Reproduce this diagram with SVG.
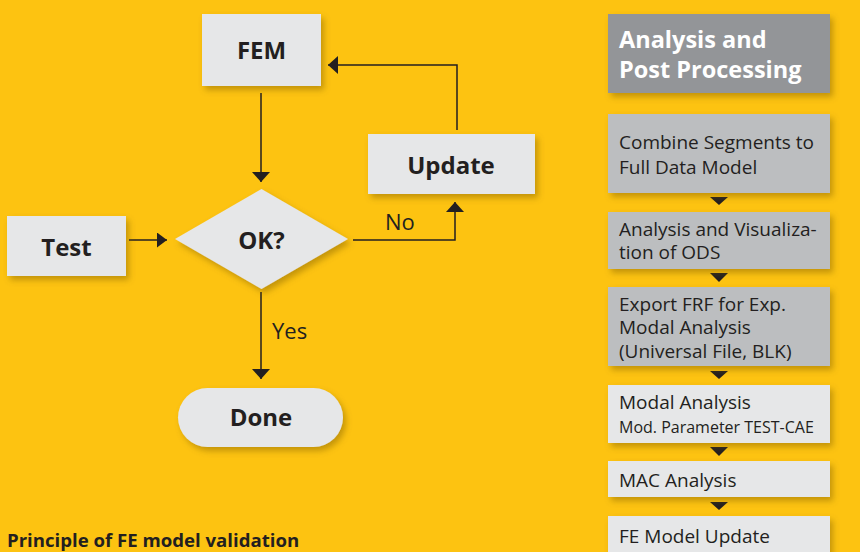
<svg xmlns="http://www.w3.org/2000/svg" width="860" height="552" viewBox="0 0 860 552">
<defs>
<filter id="sh" x="-20%" y="-20%" width="150%" height="160%">
<feDropShadow dx="3" dy="4" stdDeviation="3" flood-color="#7a5a00" flood-opacity="0.45"/>
</filter>
<marker id="ah" viewBox="0 0 10 18" refX="10" refY="9" markerWidth="10" markerHeight="18" orient="auto" markerUnits="userSpaceOnUse">
<path d="M0,0 L10,9 L0,18 z" fill="#231F20"/>
</marker>
<marker id="ahs" viewBox="0 0 10 15" refX="10" refY="7.5" markerWidth="10" markerHeight="15" orient="auto" markerUnits="userSpaceOnUse">
<path d="M0,0 L10,7.5 L0,15 z" fill="#231F20"/>
</marker>
</defs>
<style>
.bg{fill:#FDC311}
.lt{fill:#E6E7E8;filter:url(#sh)}
.md{fill:#BCBEC0;filter:url(#sh)}
.hd{fill:#939598;filter:url(#sh)}
.bl{font-family:"Open Sans","Liberation Sans",sans-serif;font-weight:bold;font-size:24px;fill:#231F20;text-anchor:middle}
.lb{font-family:"Open Sans","Liberation Sans",sans-serif;font-size:22px;fill:#231F20}
.rt{font-family:"Open Sans","Liberation Sans",sans-serif;font-size:19px;fill:#231F20}
.sm{font-family:"Open Sans","Liberation Sans",sans-serif;font-size:16px;fill:#231F20}
.ht{font-family:"Open Sans","Liberation Sans",sans-serif;font-weight:bold;font-size:23.5px;fill:#FFFFFF}
.cap{font-family:"Open Sans","Liberation Sans",sans-serif;font-weight:bold;font-size:18.6px;fill:#231F20}
.ln{fill:none;stroke:#231F20;stroke-width:1.5}
.tri{fill:#231F20}
</style>
<rect class="bg" x="0" y="0" width="860" height="552"/>
<g id="connectors">
<path class="ln" d="M261,93 V182" marker-end="url(#ah)"/>
<path class="ln" d="M129,240 H167" marker-end="url(#ahs)"/>
<path class="ln" d="M353,240 H455 V202" marker-end="url(#ah)"/>
<path class="ln" d="M457,130 V65 H328" marker-end="url(#ah)"/>
<path class="ln" d="M261,292 V379" marker-end="url(#ah)"/>
<polygon class="tri" points="710,197 728,197 719,205"/>
<polygon class="tri" points="710,273 728,273 719,282"/>
<polygon class="tri" points="710,371 728,371 719,379"/>
<polygon class="tri" points="710,447 728,447 719,456"/>
<polygon class="tri" points="710,502 728,502 719,510"/>
</g>
<g id="label-no"><text class="lb" x="385" y="230">No</text></g>
<g id="label-yes"><text class="lb" x="272" y="339">Yes</text></g>
<g id="fem"><rect class="lt" x="202" y="14" width="119" height="72"/><text class="bl" x="261.5" y="59">FEM</text></g>
<g id="test"><rect class="lt" x="7" y="216" width="119" height="60"/><text class="bl" x="66.5" y="256">Test</text></g>
<g id="ok"><polygon class="lt" points="175,239 261.5,189 348,239 261.5,289"/><text class="bl" x="261.5" y="249">OK?</text></g>
<g id="update"><rect class="lt" x="368" y="134" width="167" height="60"/><text class="bl" x="451" y="174">Update</text></g>
<g id="done"><rect class="lt" x="178" y="388" width="165" height="59" rx="29.5"/><text class="bl" x="261" y="426">Done</text></g>
<g id="caption"><text class="cap" x="7" y="547">Principle of FE model validation</text></g>
<g id="r-header"><rect class="hd" x="608" y="14" width="222" height="79"/><text class="ht" x="619" y="48">Analysis and</text><text class="ht" x="619" y="78">Post Processing</text></g>
<g id="r-combine"><rect class="md" x="608" y="114" width="222" height="79"/><text class="rt" x="619" y="149">Combine Segments to</text><text class="rt" x="619" y="174">Full Data Model</text></g>
<g id="r-ods"><rect class="md" x="608" y="212" width="222" height="57"/><text class="rt" x="619" y="236">Analysis and Visualiza-</text><text class="rt" x="619" y="259">tion of ODS</text></g>
<g id="r-export"><rect class="md" x="608" y="287" width="222" height="79"/><text class="rt" x="619" y="311">Export FRF for Exp.</text><text class="rt" x="619" y="334">Modal Analysis</text><text class="rt" x="619" y="358">(Universal File, BLK)</text></g>
<g id="r-modal"><rect class="lt" x="608" y="385" width="222" height="58"/><text class="rt" x="619" y="409">Modal Analysis</text><text class="sm" x="619" y="433">Mod. Parameter TEST-CAE</text></g>
<g id="r-mac"><rect class="lt" x="608" y="461" width="222" height="36"/><text class="rt" x="619" y="487">MAC Analysis</text></g>
<g id="r-feupdate"><rect class="lt" x="608" y="516" width="222" height="40"/><text class="rt" x="619" y="543">FE Model Update</text></g>
</svg>
